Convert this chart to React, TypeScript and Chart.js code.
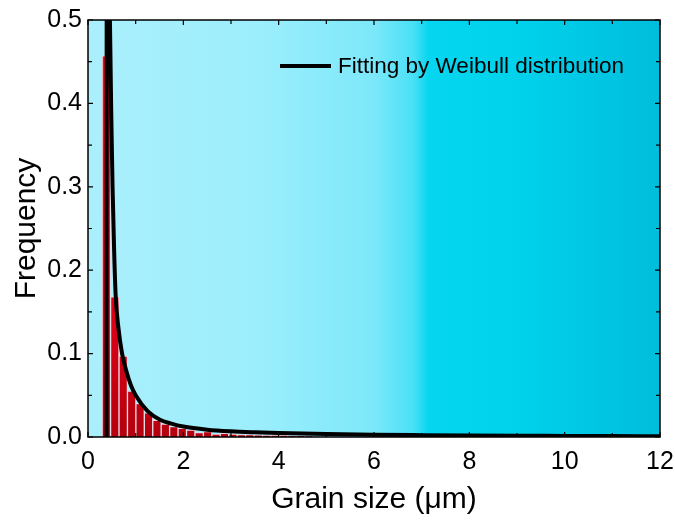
import React, { useEffect, useRef } from 'react';
import { Chart, registerables } from 'chart.js';
Chart.register(...registerables);

// Histogram bins (grain size centres, µm) and frequencies
const binCenters = [0.385, 0.562, 0.739, 0.916, 1.093, 1.27, 1.447, 1.624, 1.801, 1.978, 2.155, 2.332, 2.509, 2.686, 2.863, 3.04, 3.217, 3.394, 3.571, 3.748, 3.925, 4.102, 4.279, 4.456, 4.633];
const frequency = [0.457, 0.168, 0.097, 0.055, 0.040, 0.029, 0.020, 0.0155, 0.0124, 0.0104, 0.0084, 0.0052, 0.0064, 0.0036, 0.0044, 0.0036, 0.0030, 0.0028, 0.0025, 0.0022, 0.0020, 0.0020, 0.0018, 0.0015, 0.0012];

// Weibull fit curve
const fitX = [0.39, 0.393, 0.42, 0.44, 0.46, 0.49, 0.515, 0.55, 0.58, 0.64, 0.715, 0.8, 0.9, 1.0, 1.25, 1.5, 1.75, 2.0, 2.5, 3.0, 3.5, 4.0, 5.0, 6.0, 7.0, 8.0, 9.0, 10.0, 11.0, 12.0];
const fitY = [0, 1.0, 0.85, 0.62, 0.5, 0.38, 0.3, 0.22, 0.17, 0.13, 0.1, 0.08, 0.062, 0.05, 0.031, 0.021, 0.016, 0.0125, 0.0088, 0.0068, 0.0056, 0.0047, 0.0035, 0.0027, 0.0022, 0.0018, 0.0015, 0.0013, 0.0011, 0.001];

const xTicks = [0, 2, 4, 6, 8, 10, 12];
const xMinorTicks = [1, 3, 5, 7, 9, 11];
const yTicks = [0, 0.1, 0.2, 0.3, 0.4, 0.5];
const yMinorTicks = [0.05, 0.15, 0.25, 0.35, 0.45];
const yTickLabels = ['0.0', '0.1', '0.2', '0.3', '0.4', '0.5'];

const fitLabel = 'Fitting by Weibull distribution';
const xTitle = 'Grain size (\u03bcm)';
const yTitle = 'Frequency';

const FONT = '"Liberation Sans", Arial, sans-serif';

const bgPlugin = {
  id: 'bgPlugin',
  beforeDraw(chart: any) {
    const { ctx, chartArea: a } = chart;
    const g = ctx.createLinearGradient(a.left, 0, a.right, 0);
    g.addColorStop(0, '#abeffc');
    g.addColorStop(0.3, '#9ceefc');
    g.addColorStop(0.5, '#7ce8fa');
    g.addColorStop(0.57, '#48e0f6');
    g.addColorStop(0.595, '#06d6ef');
    g.addColorStop(0.75, '#00d2ec');
    g.addColorStop(1, '#00bddc');
    ctx.save();
    ctx.fillStyle = g;
    ctx.fillRect(a.left, a.top, a.right - a.left, a.bottom - a.top);
    ctx.restore();
  },
  afterDatasetsDraw(chart: any) {
    const { ctx, chartArea: a, scales } = chart;
    const x = scales.x, y = scales.y;
    ctx.save();
    ctx.strokeStyle = '#000';
    ctx.lineWidth = 1.5;
    ctx.strokeRect(a.left, a.top, a.right - a.left, a.bottom - a.top);
    ctx.lineWidth = 1.2;
    const drawX = (vals: number[], len: number) => {
      vals.forEach((v) => {
        const px = x.getPixelForValue(v);
        ctx.beginPath();
        ctx.moveTo(px, a.bottom); ctx.lineTo(px, a.bottom - len);
        ctx.moveTo(px, a.top); ctx.lineTo(px, a.top + len);
        ctx.stroke();
      });
    };
    const drawY = (vals: number[], len: number) => {
      vals.forEach((v) => {
        const py = y.getPixelForValue(v);
        ctx.beginPath();
        ctx.moveTo(a.left, py); ctx.lineTo(a.left + len, py);
        ctx.moveTo(a.right, py); ctx.lineTo(a.right - len, py);
        ctx.stroke();
      });
    };
    drawX(xTicks, 5); drawX(xMinorTicks, 4);
    drawY(yTicks, 5); drawY(yMinorTicks, 4);
    // legend
    const lx = a.left + 192, ly = a.top + 46;
    ctx.lineWidth = 4;
    ctx.beginPath();
    ctx.moveTo(lx, ly); ctx.lineTo(lx + 51, ly);
    ctx.stroke();
    ctx.fillStyle = '#000';
    ctx.font = `22.5px ${FONT}`;
    ctx.textBaseline = 'middle';
    ctx.textAlign = 'left';
    ctx.fillText(fitLabel, lx + 58, ly + 1);
    ctx.restore();
  },
};

export default function App() {
  const ref = useRef<HTMLCanvasElement>(null);
  useEffect(() => {
    document.body.style.margin = '0';
    const canvas = ref.current!;
    const chart = new Chart(canvas, {
      type: 'bar',
      data: {
        datasets: [
          {
            type: 'line',
            label: fitLabel,
            data: fitX.map((v, i) => ({ x: v, y: fitY[i] })),
            borderColor: '#000',
            borderWidth: 4,
            pointRadius: 0,
            cubicInterpolationMode: 'monotone',
            fill: false,
            order: 0,
            clip: 0,
          } as any,
          {
            type: 'bar',
            label: 'Histogram',
            data: binCenters.map((v, i) => ({ x: v, y: frequency[i] })),
            backgroundColor: (c: any) => {
              const a = c.chart.chartArea;
              if (!a) return '#e00010';
              const g = c.chart.ctx.createLinearGradient(0, a.top, 0, a.bottom);
              g.addColorStop(0, '#ff0a1e');
              g.addColorStop(0.6, '#ee0018');
              g.addColorStop(1, '#b4000e');
              return g;
            },
            borderColor: '#e6dbe6',
            borderWidth: 1,
            borderSkipped: 'bottom',
            barPercentage: 1,
            categoryPercentage: 1,
            order: 1,
          } as any,
        ],
      },
      options: {
        animation: false,
        responsive: true,
        maintainAspectRatio: false,
        layout: { padding: { top: 20, right: 15, left: 0, bottom: 0 } },
        plugins: { legend: { display: false }, tooltip: { enabled: false } },
        scales: {
          x: {
            type: 'linear',
            min: 0,
            max: 12,
            offset: false,
            grid: { display: false, drawTicks: false },
            border: { display: false },
            afterBuildTicks: (s: any) => { s.ticks = xTicks.map((v) => ({ value: v })); },
            afterFit: (s: any) => { s.height = 84; s.paddingLeft = 0; s.paddingRight = 0; },
            ticks: {
              color: '#000',
              padding: 10,
              maxRotation: 0,
              autoSkip: false,
              font: { family: FONT, size: 25 },
              callback: (v: any) => String(v),
            },
            title: {
              display: true,
              text: xTitle,
              color: '#000',
              font: { family: FONT, size: 30 },
              padding: { top: 0, bottom: 3 },
            },
          },
          y: {
            type: 'linear',
            min: 0,
            max: 0.5,
            grid: { display: false, drawTicks: false },
            border: { display: false },
            afterBuildTicks: (s: any) => { s.ticks = yTicks.map((v) => ({ value: v })); },
            afterFit: (s: any) => { s.width = 88; s.paddingTop = 0; s.paddingBottom = 0; },
            ticks: {
              color: '#000',
              padding: 6,
              autoSkip: false,
              font: { family: FONT, size: 25 },
              callback: (v: any) => {
                const i = yTicks.findIndex((t) => Math.abs(t - v) < 1e-9);
                return i >= 0 ? yTickLabels[i] : '';
              },
            },
            title: {
              display: true,
              text: yTitle,
              color: '#000',
              font: { family: FONT, size: 30 },
              padding: { top: 9, bottom: 0 },
            },
          },
        },
      },
      plugins: [bgPlugin],
    });
    return () => chart.destroy();
  }, []);
  return (
    <div style={{ position: 'fixed', left: 0, top: 0, width: 675, height: 521, background: '#fff' }}>
      <canvas ref={ref} />
    </div>
  );
}
